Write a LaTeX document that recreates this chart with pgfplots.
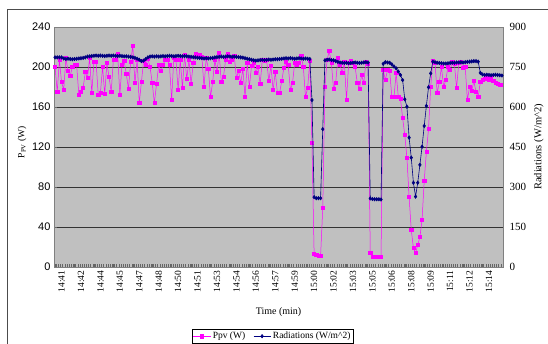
\documentclass[border=0pt]{standalone}
\usepackage{pgfplots}
\usepackage{pgfplotstable}
\pgfplotsset{compat=1.18}
\usepackage{fontspec}
\setmainfont{Liberation Serif}
\newfontfamily\sansf{Liberation Sans}
\definecolor{plotgray}{RGB}{192,192,192}
\definecolor{axgray}{RGB}{128,128,128}
\definecolor{pv}{RGB}{255,0,255}
\definecolor{rad}{RGB}{0,0,128}

\pgfplotstableread{
i p r
0 200 786
1 175 786
2 207 786
3 185 786
4 177 782
5 209 780
6 196 781
7 191 780
8 200 779
9 202 780
10 202 781
11 172 782
12 175 783
13 179 784
14 195 786
15 189 789
16 209 790
17 174 791
18 205 792
19 205 793
20 172 792
21 174 793
22 200 792
23 173 791
24 204 792
25 190 793
26 175 792
27 207 793
28 207 792
29 213 791
30 172 792
31 202 791
32 206 790
33 193 790
34 178 789
35 205 788
36 221 786
37 184 784
38 207 781
39 164 777
40 185 772
41 206 774
42 202 780
43 208 786
44 200 789
45 184 790
46 164 789
47 183 790
48 202 789
49 196 790
50 202 791
51 207 790
52 207 791
53 202 792
54 167 791
55 209 790
56 207 791
57 177 792
58 207 791
59 179 790
60 212 791
61 188 790
62 207 789
63 183 788
64 204 787
65 213 786
66 212 785
67 212 784
68 210 783
69 180 782
70 209 783
71 198 782
72 170 783
73 185 784
74 207 786
75 195 787
76 214 788
77 185 789
78 190 788
79 207 789
80 213 790
81 205 789
82 207 788
83 211 789
84 189 788
85 196 787
86 184 786
87 198 785
88 170 783
89 204 781
90 180 779
91 201 777
92 204 775
93 194 774
94 200 775
95 183 776
96 207 777
97 206 776
98 207 777
99 186 778
100 201 777
101 177 778
102 195 779
103 174 779
104 174 780
105 186 781
106 199 782
107 205 783
108 202 782
109 177 783
110 184 782
111 204 781
112 202 782
113 204 783
114 211 782
115 200 781
116 170 782
117 179 781
118 206 780
119 124 626
120 13 262
121 12 258
122 11 258
123 11 258
124 59 517
125 180 775
126 207 777
127 216 778
128 204 776
129 178 775
130 184 772
131 209 769
132 202 767
133 194 766
134 205 765
135 167 766
136 204 764
137 206 765
138 204 766
139 200 767
140 184 766
141 178 765
142 192 766
143 184 767
144 205 768
145 203 767
146 14 257
147 10 255
148 10 254
149 10 254
150 10 254
151 10 253
152 197 762
153 187 768
154 197 767
155 196 766
156 170 760
157 170 752
158 194 745
159 170 733
160 168 720
161 149 701
162 132 629
163 109 601
164 70 485
165 37 410
166 19 316
167 14 264
168 22 316
169 30 383
170 47 451
171 86 529
172 115 604
173 138 674
174 180 726
175 206 770
176 204 768
177 174 766
178 185 765
179 200 764
180 180 763
181 187 763
182 200 764
183 197 765
184 205 766
185 203 766
186 179 767
187 204 767
188 205 768
189 199 767
190 200 768
191 167 769
192 180 770
193 176 771
194 186 772
195 175 772
196 170 770
197 185 728
198 187 722
199 188 720
200 189 721
201 187 720
202 190 719
203 186 720
204 184 721
205 183 720
206 182 719
207 182 718
}\datatable

\begin{document}
\begin{tikzpicture}
\begin{axis}[
  scale only axis, width=449pt, height=240pt,
  xmin=-0.5, xmax=207.5, ymin=0, ymax=240,
  axis background/.style={fill=plotgray},
  axis line style={draw=axgray, line width=0.9pt},
  /pgf/number format/assume math mode=true,
  ytick={0,40,...,240},
  ymajorgrids, major grid style={black!80, line width=0.6pt},
  xtick={0,9,...,198},
  xticklabels={14:41,14:42,14:44,14:45,14:47,14:48,14:50,14:51,14:53,14:54,14:56,14:57,14:59,15:00,15:02,15:03,15:05,15:06,15:08,15:09,15:11,15:12,15:14},
  minor xtick={-0.5,0.5,...,207.5},
  tick align=inside, major tick length=2.5pt, minor tick length=2.5pt,
  tick style={black!60, line width=0.4pt},
  xtick pos=bottom, ytick pos=left,
  x tick label style={rotate=90, anchor=east, yshift=-6.5pt, font=\fontsize{9.5}{9.5}\selectfont},
  y tick label style={font=\sansf\fontsize{11}{11}\selectfont},
  xlabel={Time (min)},
  xlabel style={at={(axis description cs:0.5,-0.1875)}, anchor=center, font=\fontsize{10}{10}\selectfont},
  ylabel={P\textsubscript{PV} (W)},
  ylabel style={at={(axis description cs:-0.0713,0.52)}, anchor=center, font=\fontsize{9.5}{9.5}\selectfont},
]
\addplot[color=pv, line width=0.5pt, mark=square*, mark size=1.6pt, mark options={fill=pv, draw=pv}] table[x=i, y=p] {\datatable};
\end{axis}
\begin{axis}[
  scale only axis, width=449pt, height=240pt,
  xmin=-0.5, xmax=207.5, ymin=0, ymax=900,
  axis x line=none, axis y line*=right,
  axis line style={draw=axgray, line width=0.9pt},
  /pgf/number format/assume math mode=true,
  ytick={0,150,...,900},
  tick align=inside, major tick length=0pt,
  y tick label style={xshift=3pt, font=\fontsize{11}{11}\selectfont},
  ylabel={Radiations (W/m\textasciicircum 2)},
  ylabel style={at={(axis description cs:1.08,0.5)}, anchor=center, rotate=0, font=\fontsize{10.5}{10.5}\selectfont},
  legend columns=2,
  legend style={at={(axis description cs:0.3073,-0.258)}, anchor=north west, draw=black, line width=0.5pt, font=\fontsize{9.5}{9.5}\selectfont, inner sep=1pt, row sep=0pt, /tikz/every even column/.append style={column sep=6pt}},
]
\addlegendimage{color=pv, line width=0.5pt, mark=square*, mark size=1.6pt, mark options={fill=pv, draw=pv}}
\addlegendentry{Ppv (W)}
\addplot[color=rad, line width=0.6pt, mark=diamond*, mark size=1.7pt, mark options={fill=rad, draw=rad}] table[x=i, y=r] {\datatable};
\addlegendentry{Radiations (W/m\textasciicircum 2)}
\end{axis}
\draw[black!70, line width=0.8pt] (-47pt,-90pt) -- (-47pt,258pt) -- (510pt,258pt);
\pgfresetboundingbox
\path[use as bounding box] (-54pt,-77pt) rectangle (494pt,267pt);
\end{tikzpicture}
\end{document}
